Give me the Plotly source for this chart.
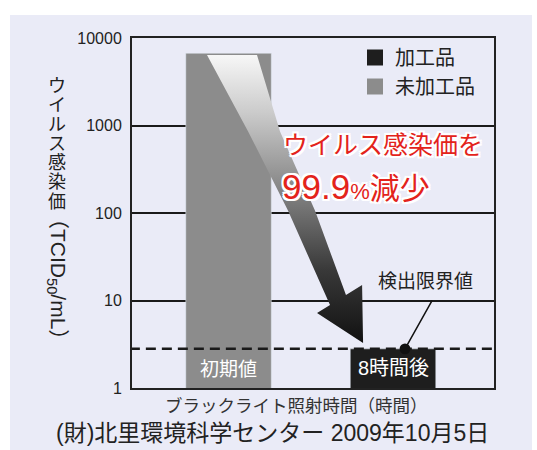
import math
import plotly.graph_objects as go

# ---- data ----
categories = ["初期値", "8時間後"]
series_names = ["未加工品", "加工品"]
values = [6700, 2.8]          # TCID50/mL
detection_limit = 2.8
y_tickvals = [1, 10, 100, 1000, 10000]
y_ticktext = ["1", "10", "100", "1000", "10000"]

FONT = "Liberation Sans, Noto Sans CJK JP, sans-serif"
GRAY = "#8c8c8c"
BLACK = "#1e1e1e"
RED = "#e3231b"

xs = [0, 1]
fig = go.Figure()

# bars
fig.add_trace(go.Bar(x=[xs[0]], y=[values[0]], marker_color=GRAY, width=0.52,
                     showlegend=False, name=series_names[0]))
fig.add_trace(go.Bar(x=[xs[1]], y=[values[1]], marker_color=BLACK, width=0.52,
                     showlegend=False, name=series_names[1]))

# decorative gradient arrow, geometry relative to the bars (u: along x, v: fraction of log drop)
arrow_uv = [(-0.131, 0.0), (0.173, 0.0), (0.313, 0.26), (0.526, 0.53), (0.714, 0.817),
            (0.812, 0.783), (0.818, 0.98), (0.538, 0.878), (0.617, 0.851),
            (0.362, 0.53), (0.119, 0.26), (-0.131, 0.0)]
ls = math.log10(values[0]) - 0.02
le = math.log10(detection_limit)
ax_x = [xs[0] + u * (xs[1] - xs[0]) for u, v in arrow_uv]
ax_y = [10 ** (ls - v * (ls - le)) for u, v in arrow_uv]
fig.add_trace(go.Scatter(x=ax_x, y=ax_y, mode="lines", fill="toself",
                         line=dict(width=0, color="rgba(0,0,0,0)"),
                         fillgradient=dict(type="vertical",
                                           colorscale=[[0, "#111111"], [0.25, "#383838"],
                                                       [0.55, "#8a8a8a"], [0.8, "#cbcbcb"],
                                                       [1, "#f7f7f7"]]),
                         showlegend=False, hoverinfo="skip"))

# detection limit dashed line
fig.add_trace(go.Scatter(x=[-0.6, 1.62], y=[detection_limit, detection_limit], mode="lines",
                         line=dict(color="#1a1a1a", width=2.5, dash="10px,6px"),
                         showlegend=False, hoverinfo="skip"))

# legend entries
fig.add_trace(go.Scatter(x=[None], y=[None], mode="markers", name=series_names[1],
                         marker=dict(symbol="square", size=16, color=BLACK)))
fig.add_trace(go.Scatter(x=[None], y=[None], mode="markers", name=series_names[0],
                         marker=dict(symbol="square", size=16, color=GRAY)))

def px_x(p):
    return (p - 132) / 362

def px_y(p):
    return (388 - p) / 350

def A(**kw):
    d = dict(showarrow=False, xanchor="center", yanchor="middle")
    d.update(kw)
    return d

ann = []
# bar labels
ann.append(A(x=xs[0], y=0.206, xref="x", yref="y", text=categories[0],
             font=dict(size=19, color="white", family=FONT)))
ann.append(A(x=xs[1], y=0.229, xref="x", yref="y", text=categories[1],
             font=dict(size=20, color="white", family=FONT)))

# red message
shadow = ("2px 2px 0 white, -2px -2px 0 white, 2px -2px 0 white, -2px 2px 0 white, "
          "0 2px 0 white, 0 -2px 0 white, 2px 0 0 white, -2px 0 0 white")
ann.append(A(x=px_x(281), y=px_y(145), xref="paper", yref="paper", xanchor="left",
             text="ウイルス感染価を",
             font=dict(size=25, color=RED, family=FONT, shadow=shadow)))
ann.append(A(x=px_x(280), y=px_y(186), xref="paper", yref="paper", xanchor="left",
             text="<span style='font-size:35px'>99.9</span><span style='font-size:22px'>%</span>"
                  "<span style='font-size:30px'>減少</span>",
             font=dict(size=30, color=RED, family=FONT, shadow=shadow)))

# detection limit callout
ann.append(A(x=px_x(425), y=px_y(281), xref="paper", yref="paper", text="検出限界値",
             font=dict(size=19, color="#222", family=FONT)))
ann.append(dict(x=1.073, y=math.log10(detection_limit), xref="x", yref="y", text="",
                showarrow=True, arrowhead=6, arrowsize=1.8, arrowwidth=1.5, arrowcolor="#111",
                ax=28, ay=-50))

# y-axis title (vertical writing)
for i, ch in enumerate("ウイルス感染価"):
    ann.append(A(x=px_x(57), y=px_y(86 + 19.3 * i), xref="paper", yref="paper", text=ch,
                 font=dict(size=18, color="#222", family=FONT)))
ann.append(A(x=px_x(57), y=px_y(279), xref="paper", yref="paper",
             text="（TCID<sub>50</sub>/mL）", textangle=90,
             font=dict(size=21, color="#222", family=FONT)))

# x-axis title
ann.append(A(x=px_x(296), y=px_y(406), xref="paper", yref="paper",
             text="ブラックライト照射時間（時間）",
             font=dict(size=17.5, color="#333", family=FONT)))
# source line
ann.append(A(x=px_x(272), y=px_y(433), xref="paper", yref="paper",
             text="(財)北里環境科学センター 2009年10月5日",
             font=dict(size=23, color="#222", family=FONT)))

shapes = [dict(type="rect", xref="paper", yref="paper", layer="below",
               x0=px_x(10), x1=px_x(532), y0=px_y(15), y1=px_y(455),
               fillcolor="#eaebf7", line=dict(width=0))]

fig.update_layout(
    width=537, height=450,
    margin=dict(l=132, r=43, t=38, b=62),
    paper_bgcolor="white", plot_bgcolor="white",
    barmode="overlay",
    font=dict(family=FONT, color="#222"),
    xaxis=dict(range=[-0.587, 1.614], showticklabels=False, showgrid=False, zeroline=False,
               showline=True, linecolor="#222", linewidth=2, mirror=True, ticks=""),
    yaxis=dict(type="log", range=[0, 4], tickvals=y_tickvals, ticktext=y_ticktext,
               showgrid=True, gridcolor="#1a1a1a", gridwidth=1.5, zeroline=False,
               showline=True, linecolor="#222", linewidth=2, mirror=True, ticks="",
               ticklabelstandoff=5, tickfont=dict(size=16, color="#222", family=FONT)),
    legend=dict(x=px_x(355), y=1.0, xanchor="left", yanchor="top", bgcolor="rgba(0,0,0,0)",
                font=dict(size=20, color="#222", family=FONT), tracegroupgap=0),
    annotations=ann,
    shapes=shapes,
)

fig.write_html("out.html", config={"displayModeBar": False},
               post_script="document.body.style.margin='0';")
